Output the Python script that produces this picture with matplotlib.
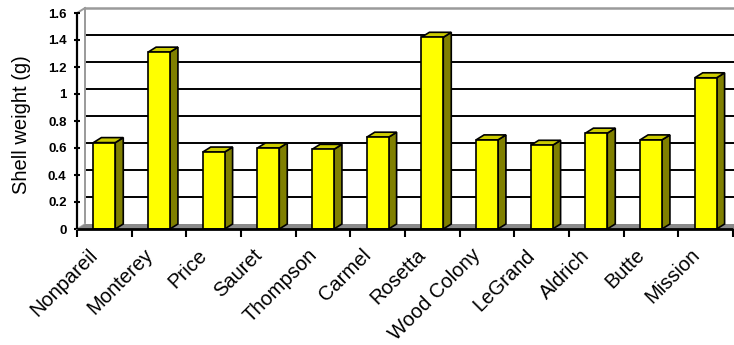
import matplotlib
matplotlib.use("Agg")
import matplotlib.pyplot as plt
from matplotlib.patches import Polygon
from matplotlib.ticker import FixedLocator, FuncFormatter
from matplotlib.transforms import ScaledTranslation

categories = ["Nonpareil", "Monterey", "Price", "Sauret", "Thompson", "Carmel",
              "Rosetta", "Wood Colony", "LeGrand", "Aldrich", "Butte", "Mission"]
shell_weight = [0.64, 1.31, 0.57, 0.60, 0.59, 0.68, 1.42, 0.66, 0.62, 0.71, 0.66, 1.12]
y_ticks = [0, 0.2, 0.4, 0.6, 0.8, 1.0, 1.2, 1.4, 1.6]

plt.rcParams["font.family"] = ["Liberation Sans", "DejaVu Sans"]

W, H = 734, 345
fig = plt.figure(figsize=(W / 100, H / 100), dpi=100)
fig.patch.set_facecolor("white")

left_px, right_px, bottom_px, top_px = 77, 733, 229, 13
ax = fig.add_axes([left_px / W, 1 - bottom_px / H,
                   (right_px - left_px) / W, (bottom_px - top_px) / H])
n = len(categories)
ymax = 1.6
ax.set_xlim(0, n)
ax.set_ylim(0, ymax)
ax.set_facecolor("none")
for s in ax.spines.values():
    s.set_visible(False)

# depth offset of the 3-D box, in data units (8 px right, 5 px up)
px_x = n / (right_px - left_px)
px_y = ymax / (bottom_px - top_px)
dx, dy = 8 * px_x, 5 * px_y

wall_grey = "#9a9a9a"

# back wall gridlines
for v in y_ticks[1:-1]:
    ax.plot([dx, n + dx], [v + dy, v + dy], color="black", lw=1.4,
            clip_on=False, zorder=1, solid_capstyle="butt")
# back wall outline (top and left edges)
ax.plot([dx, n + dx], [ymax + dy, ymax + dy], color=wall_grey, lw=1.8,
        clip_on=False, zorder=1)
ax.plot([dx, dx], [dy, ymax + dy], color=wall_grey, lw=1.4,
        clip_on=False, zorder=1)
ax.plot([0, dx], [ymax, ymax + dy], color=wall_grey, lw=1.4,
        clip_on=False, zorder=1)
ax.plot([0, dx], [0, dy], color="#b0b0b0", lw=1.2, clip_on=False, zorder=2)

# floor
floor = Polygon([(0, 0), (n, 0), (n + dx, dy), (dx, dy)], closed=True,
                facecolor="#8a8a8a", edgecolor="none", clip_on=False, zorder=2)
ax.add_patch(floor)

# 3-D columns
bw = 0.4
for i, v in enumerate(shell_weight):
    x0 = i + 0.5 - bw / 2
    x1 = i + 0.5 + bw / 2
    side = Polygon([(x1, 0), (x1 + dx, dy), (x1 + dx, v + dy), (x1, v)],
                   closed=True, facecolor="#808000", edgecolor="black",
                   lw=1.2, joinstyle="miter", clip_on=False, zorder=3)
    top = Polygon([(x0, v), (x1, v), (x1 + dx, v + dy), (x0 + dx, v + dy)],
                  closed=True, facecolor="#cccc00", edgecolor="black",
                  lw=1.2, joinstyle="miter", clip_on=False, zorder=3)
    front = Polygon([(x0, 0), (x1, 0), (x1, v), (x0, v)], closed=True,
                    facecolor="#ffff00", edgecolor="black", lw=1.2,
                    joinstyle="miter", clip_on=False, zorder=4)
    for p in (side, top, front):
        ax.add_patch(p)

# front axes lines
ax.plot([0, n], [0, 0], color="black", lw=2.0, clip_on=False, zorder=5,
        solid_capstyle="butt")
ax.plot([0, 0], [0, ymax], color="black", lw=1.6, clip_on=False, zorder=5,
        solid_capstyle="butt")

# x axis: ticks at category boundaries, labels at centres
ax.xaxis.set_major_locator(FixedLocator(range(n + 1)))
ax.xaxis.set_major_formatter(FuncFormatter(lambda v, p: ""))
ax.set_xticks([i + 0.5 for i in range(n)], minor=True)
ax.set_xticklabels(categories, minor=True, rotation=45, ha="right",
                   va="top", rotation_mode="anchor", fontsize=14.5)
ax.tick_params(axis="x", which="major", direction="out", length=6,
               width=1.5, color="black")
ax.tick_params(axis="x", which="minor", length=0, pad=9)
shift = ScaledTranslation(-16 / 100, -4 / 100, fig.dpi_scale_trans)
for t in ax.get_xticklabels(minor=True):
    t.set_transform(t.get_transform() + shift)

# y axis
ax.set_yticks(y_ticks)
ax.yaxis.set_major_formatter(FuncFormatter(lambda v, p: f"{v:g}"))
ax.tick_params(axis="y", direction="inout", length=5, width=1.5,
               color="black", pad=5, labelsize=9.5)
for t in ax.get_yticklabels():
    t.set_fontweight("bold")

fig.text(22 / W, 1 - 125 / H, "Shell weight (g)", rotation=90,
         ha="center", va="center", fontsize=14.5)

fig.savefig("out.png", dpi=100, facecolor="white")
